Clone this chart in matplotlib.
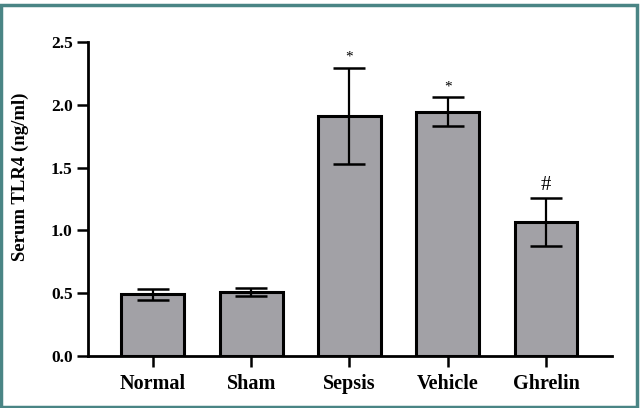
import matplotlib
matplotlib.use('Agg')
import matplotlib.pyplot as plt
import matplotlib.patches as mpatches
import numpy as np

# 数据
groups = ['Normal', 'Sham', 'Sepsis', 'Vehicle', 'Ghrelin']
means = [0.49, 0.51, 1.91, 1.945, 1.065]
errs = [0.045, 0.035, 0.385, 0.115, 0.19]
marks = ['', '', '*', '*', '#']

plt.rcParams['font.family'] = ['Liberation Serif', 'DejaVu Serif']
plt.rcParams['font.weight'] = 'bold'

fig = plt.figure(figsize=(6.4, 4.08), dpi=100)
ax = fig.add_axes([0.1375, 0.1275, 0.8185, 0.7696])

x = np.arange(len(groups))
ax.bar(x, means, width=0.64, color='#a2a1a6', edgecolor='black', linewidth=2.2, zorder=2)
ax.errorbar(x, means, yerr=errs, fmt='none', ecolor='black', elinewidth=1.6,
            capsize=11.5, capthick=1.8, zorder=3)

# 显著性标记
for i, m in enumerate(marks):
    if not m:
        continue
    fs = 11 if m == '*' else 15
    ax.text(x[i], means[i] + errs[i] + 0.03, m, ha='center', va='bottom',
            fontsize=fs, fontweight='normal')

ax.set_xlim(-0.66, 4.67)
ax.set_ylim(0, 2.5)
ax.set_yticks([0.0, 0.5, 1.0, 1.5, 2.0, 2.5])
ax.set_yticklabels(['0.0', '0.5', '1.0', '1.5', '2.0', '2.5'])
ax.set_xticks(x)
ax.set_xticklabels(groups, fontsize=14.5, fontweight='bold')
ax.tick_params(axis='y', labelsize=12.5, length=8, width=1.8, pad=3)
ax.tick_params(axis='x', length=8, width=1.8, pad=5)
ax.set_ylabel('Serum TLR4 (ng/ml)', fontsize=13.5, fontweight='bold')
ax.yaxis.set_label_coords(-0.113, 0.57)

for s in ['top', 'right']:
    ax.spines[s].set_visible(False)
for s in ['left', 'bottom']:
    ax.spines[s].set_linewidth(2.0)

# 外框
frame = mpatches.Rectangle((0.002, 0.003), 0.994, 0.985, transform=fig.transFigure,
                           fill=False, edgecolor='#4a8585', linewidth=2.5)
fig.patches.append(frame)

fig.savefig('out.png', dpi=100)
